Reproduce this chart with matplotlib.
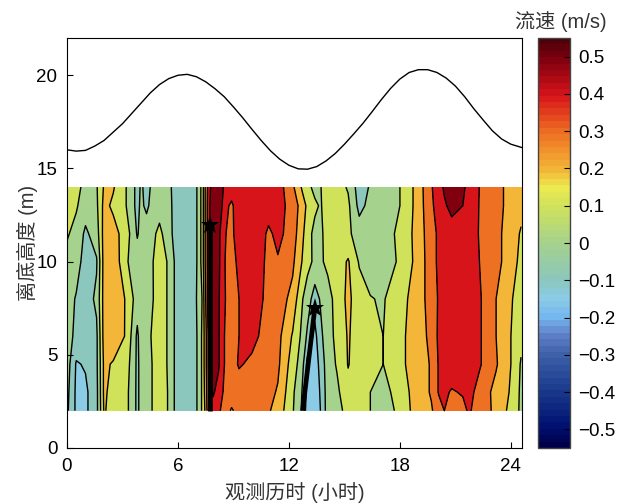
import numpy as np
import matplotlib
matplotlib.use("Agg")
import matplotlib.pyplot as plt
from matplotlib.colors import LinearSegmentedColormap, Normalize
from matplotlib.cm import ScalarMappable

plt.rcParams['font.family'] = ['Liberation Sans', 'Noto Sans CJK SC']

# water surface
tide_t = [0, .5, 1, 1.5, 2, 2.5, 3, 3.5, 4, 4.5, 5, 5.5, 6, 6.5, 7, 7.5, 8, 8.5, 9, 9.5, 10, 10.5, 11, 11.5, 12, 12.5,
          13, 13.5, 14, 14.5, 15, 15.5, 16, 16.5, 17, 17.5, 18, 18.5, 19, 19.5, 20, 20.5, 21, 21.5, 22, 22.5, 23, 23.5, 24, 24.6]
tide_h = [16.0, 15.93, 15.97, 16.2, 16.5, 16.95, 17.4, 17.95, 18.5, 19.05, 19.5, 19.82, 20.0, 20.05, 19.92, 19.65, 19.28, 18.85, 18.3, 17.72, 17.1, 16.5, 15.95, 15.5, 15.17, 14.98,
          14.96, 15.1, 15.4, 15.8, 16.3, 16.85, 17.42, 18.05, 18.7, 19.3, 19.8, 20.15, 20.3, 20.3, 20.15, 19.85, 19.42, 18.85, 18.2, 17.6, 17.02, 16.58, 16.3, 16.12]

# velocity section
t = [0, 0.5, 1, 1.6, 2, 2.5, 3.2, 3.8, 4, 4.3, 4.6, 5, 5.4, 5.8, 6.4, 7, 7.3, 7.5, 7.7, 7.9, 8.2, 8.6, 8.9, 9.3, 10, 10.6, 10.9, 11.4,
     12.2, 12.7, 13, 13.4, 13.7, 14.1, 14.6, 15.2, 15.8, 16.4, 17.1, 17.7, 18.3, 19, 19.7, 20.1, 20.4, 20.8, 21.4, 21.7, 22, 22.4, 23.2, 24, 24.55]
z = [2, 3, 4.5, 6, 8, 10, 11.5, 13, 14]

u_2 = [-.03, -.17, -.17, -.08, .16, .11, .08, -.07, -.02, 0, .05, .11, .06, -.05, -.1, -.06, .06, .18, .38, .42, .37, .28, .24, .28, .28, .27, .26, .21,
       .06, -.06, -.2, -.23, -.15, 0, .03, .07, .1, .05, .03, .05, .12, .2, .24, .3, .35, .33, .32, .36, .34, .31, .22, .12, .03]
u_3 = [-.02, -.17, -.17, -.08, .17, .11, .08, -.07, -.02, 0, .05, .11, .06, -.05, -.1, -.06, .06, .2, .4, .46, .42, .3, .3, .3, .3, .29, .28, .24,
       .07, -.05, -.18, -.22, -.14, 0, .03, .12, .1, .05, .03, .06, .13, .2, .26, .36, .37, .34, .36, .37, .35, .3, .22, .14, .03]
u_45 = [0, -.16, -.14, -.07, .17, .14, .1, -.07, -.02, 0, .05, .12, .05, -.05, -.1, -.06, .06, .22, .42, .5, .46, .32, .31, .36, .33, .3, .28, .27,
        .1, 0, -.18, -.22, -.11, 0, .06, .155, .1, .06, .05, .09, .15, .2, .26, .36, .4, .42, .42, .41, .38, .35, .26, .15, .04]
u_6 = [0, -.08, -.1, -.07, .19, .22, .14, -.07, 0, .01, .06, .12, .05, -.05, -.1, -.06, .06, .22, .42, .5, .46, .32, .31, .35, .38, .33, .3, .28,
       .14, .03, -.07, -.18, -.08, .02, .07, .16, .1, .06, .05, .09, .15, .2, .28, .37, .4, .42, .42, .41, .38, .35, .25, .15, .08]
u_8 = [0, -.06, -.1, -.03, .19, .23, .14, 0, 0, .01, .04, .1, .05, -.05, -.1, -.05, .05, .25, .45, .5, .46, .34, .32, .35, .38, .35, .3, .3,
       .22, .06, 0, -.1, -.04, 0, .1, .17, .1, .055, .04, .1, .14, .2, .3, .36, .39, .42, .42, .41, .39, .35, .25, .16, .1]
u_10 = [.02, 0, -.1, -.06, .19, .23, .06, 0, 0, 0, .04, .11, .05, -.05, -.1, -.06, .08, .28, .44, .52, .47, .33, .32, .37, .4, .36, .32, .34,
        .27, .15, .08, .03, .03, .08, .1, .16, .04, 0, .04, .04, .1, .19, .31, .37, .4, .42, .42, .41, .38, .34, .28, .2, .12]
u_115 = [.06, .02, -.07, 0, .19, .19, .1, -.06, -.02, 0, .02, .08, 0, -.07, -.1, -.06, .08, .28, .44, .52, .47, .35, .33, .4, .4, .37, .33, .38,
         .3, .18, .09, .02, .03, .09, .1, .07, 0, 0, .02, .05, .1, .2, .31, .37, .4, .42, .42, .41, .38, .33, .28, .2, .14]
u_13 = [.12, .06, 0, .03, .18, .13, .05, -.08, -.03, -.07, -.02, 0, -.01, -.07, -.1, -.06, .08, .28, .44, .52, .52, .37, .33, .42, .42, .42, .4, .38,
        .32, .2, .13, .07, .04, .1, .1, .07, -.08, -.02, 0, .02, .08, .2, .33, .4, .44, .47, .45, .4, .39, .33, .3, .2, .18]
u_14 = [.1, .08, .02, .04, .16, .16, .05, -.08, -.04, -.07, -.04, -.02, -.02, -.07, -.1, -.06, .08, .28, .42, .52, .52, .41, .41, .41, .42, .42, .42, .4,
        .27, .14, .08, .02, .04, .15, .09, .04, -.1, -.04, 0, .02, .08, .2, .34, .42, .46, .52, .47, .42, .4, .33, .3, .2, .18]

# thick lines ending at the stars
ebb_t = [7.74, 7.74]
ebb_z = [2, 11.98]
flood_t = [12.74, 13.4]
flood_z = [2, 7.52]

xticks = [0, 6, 12, 18, 24]
yticks = [0, 5, 10, 15, 20]
cbar_ticks = [-.5, -.4, -.3, -.2, -.1, 0, .1, .2, .3, .4, .5]
cbar_labels = ['\u22120.5', '\u22120.4', '\u22120.3', '\u22120.2', '\u22120.1', '0', '0.1', '0.2', '0.3', '0.4', '0.5']
levels = [-.55, -.45, -.35, -.25, -.15, -.05, .05, .15, .25, .35, .45, .55]
band_colors = ['#001070', '#1a3a8c', '#3f62ab', '#8ccbe5', '#8cc7bd', '#a5d28c', '#d0e25a', '#f3b638', '#ee7022', '#d7141a', '#800010']

stops = [(-.55, '#00004a'), (-.5, '#001070'), (-.4, '#1a3a8c'), (-.3, '#3f62ab'), (-.25, '#5f80c8'),
         (-.2, '#75b8f0'), (-.15, '#8ccbe5'), (-.1, '#8cc7bd'), (0, '#a5d28c'), (.1, '#d0e25a'),
         (.15, '#ecea50'), (.2, '#f3b638'), (.3, '#ee7022'), (.4, '#d7141a'), (.5, '#800010'), (.55, '#4f0008')]
cmap = LinearSegmentedColormap.from_list('flow', [((v + .55) / 1.1, c) for v, c in stops], N=64)
norm = Normalize(-.55, .55)

W, H = 624, 503
fig = plt.figure(figsize=(W / 100, H / 100), dpi=100)
ax = fig.add_axes([67 / W, (H - 448) / H, 455 / W, 410 / H])

u = np.array([u_2, u_3, u_45, u_6, u_8, u_10, u_115, u_13, u_14])
ax.contourf(t, z, u, levels=levels, colors=band_colors)
ax.contour(t, z, u, levels=levels, colors='k', linewidths=1.0, linestyles='solid')
ax.plot(tide_t, tide_h, color='k', lw=1.0)

ax.plot(ebb_t, ebb_z, color='k', lw=3.4, solid_capstyle='butt')
ax.plot(flood_t, flood_z, color='k', lw=3.4, solid_capstyle='butt')
ax.plot(ebb_t[-1], ebb_z[-1], marker='*', color='k', ms=14, mew=0)
ax.plot(flood_t[-1], flood_z[-1], marker='*', color='k', ms=14, mew=0)

ax.set_xlim(0, 24.6)
ax.set_ylim(0, 22)
ax.set_xticks(xticks)
ax.set_yticks(yticks)
ax.tick_params(direction='in', length=4, width=0.8, labelsize=13.5, pad=7)
ax.set_xlabel('观测历时 (小时)', fontsize=14.5, color='#333333', labelpad=5)
ax.set_ylabel('离底高度 (m)', fontsize=14.5, color='#333333', labelpad=-1)

cax = fig.add_axes([538 / W, (H - 448) / H, 32 / W, 410 / H])
cb = fig.colorbar(ScalarMappable(norm=norm, cmap=cmap), cax=cax)
cb.set_ticks(cbar_ticks, labels=cbar_labels)
cb.ax.tick_params(direction='in', length=4, width=0.8, labelsize=13.5, pad=6)
cb.outline.set_edgecolor('#444444')
cb.outline.set_linewidth(1.0)
fig.text(561 / W, (H - 22) / H, '流速 (m/s)', fontsize=14.5, color='#333333', ha='center', va='center')

fig.savefig('out.png', dpi=100)
